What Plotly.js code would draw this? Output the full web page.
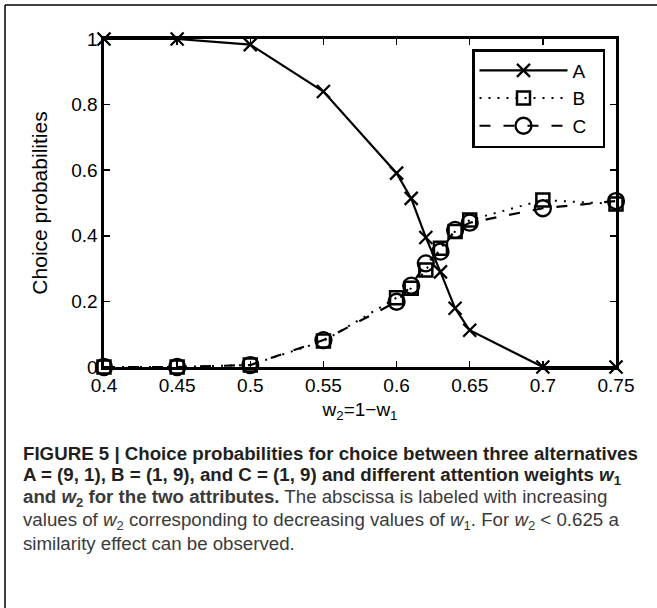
<!DOCTYPE html>
<html>
<head>
<meta charset="utf-8">
<script src="https://cdn.plot.ly/plotly-3.0.1.min.js"></script>
<style>html,body{margin:0;padding:0;background:#fff;}</style>
</head>
<body>
<div id="chart" style="width:657px;height:608px;"></div>
<script>
// ---- data ----
const w2 = [0.4, 0.45, 0.5, 0.55, 0.6, 0.61, 0.62, 0.63, 0.64, 0.65, 0.7, 0.75];
const probA = [1.0, 1.0, 0.983, 0.84, 0.591, 0.514, 0.395, 0.29, 0.179, 0.112, 0.0, 0.0];
const probB = [0.0, 0.0, 0.006, 0.079, 0.211, 0.24, 0.296, 0.362, 0.413, 0.448, 0.509, 0.497];
const probC = [0.0, 0.0, 0.006, 0.082, 0.199, 0.248, 0.316, 0.352, 0.418, 0.44, 0.484, 0.506];
const seriesNames = ['A', 'B', 'C'];
const xTicks = [0.4, 0.45, 0.5, 0.55, 0.6, 0.65, 0.7, 0.75];
const xTickLabels = ['0.4', '0.45', '0.5', '0.55', '0.6', '0.65', '0.7', '0.75'];
const yTicks = [0, 0.2, 0.4, 0.6, 0.8, 1];
const yTickLabels = ['0', '0.2', '0.4', '0.6', '0.8', '1'];
const captionLines = [
  '<b>FIGURE 5 | Choice probabilities for choice between three alternatives</b>',
  '<b>A = (9, 1), B = (1, 9), and C = (1, 9) and different attention weights <i>w</i><sub>1</sub></b>',
  '<b>and <i>w</i><sub>2</sub> for the two attributes.</b> The abscissa is labeled with increasing',
  'values of <i>w</i><sub>2</sub> corresponding to decreasing values of <i>w</i><sub>1</sub>. For <i>w</i><sub>2</sub> < 0.625 a',
  'similarity effect can be observed.'
];

// ---- layout geometry (pixels) ----
const W = 657, H = 608;
const M = {l: 104, r: 41, t: 39, b: 241};
const pw = W - M.l - M.r, ph = H - M.t - M.b;
const px = x => (x - M.l) / pw;
const py = y => (H - M.b - y) / ph;

const font = 'Liberation Sans, Arial, Helvetica, sans-serif';
const pad = '\u00a0\u00a0';

const traces = [
  {x: w2, y: probA, name: seriesNames[0] + pad, mode: 'lines+markers', cliponaxis: false,
   line: {color: '#000', width: 2.2},
   marker: {symbol: 'x-thin', size: 13, line: {color: '#000', width: 2.3}, color: '#000'}},
  {x: w2, y: probB, name: seriesNames[1] + pad, mode: 'lines+markers', cliponaxis: false,
   line: {color: '#000', width: 2, dash: '2px,7px'},
   marker: {symbol: 'square-open', size: 13, line: {color: '#000', width: 2.5}, color: '#000'}},
  {x: w2, y: probC, name: seriesNames[2] + pad, mode: 'lines+markers', cliponaxis: false,
   line: {color: '#000', width: 2.2, dash: '11px,13px'},
   marker: {symbol: 'circle-open', size: 16, line: {color: '#000', width: 2.3}, color: '#000'}}
];

const annotations = captionLines.map((t, i) => ({
  text: t, xref: 'paper', yref: 'paper',
  x: px(21), y: py(453 + i * 22.5), xanchor: 'left', yanchor: 'middle',
  showarrow: false, align: 'left',
  font: {family: font, size: 18.7, color: i < 2 ? '#231f20' : '#3a3a3a'}
}));

const layout = {
  width: W, height: H,
  margin: M,
  paper_bgcolor: '#fff', plot_bgcolor: '#fff',
  showlegend: true,
  legend: {
    x: px(472), y: py(49), xanchor: 'left', yanchor: 'top',
    bgcolor: '#fff', bordercolor: '#000', borderwidth: 2.5,
    font: {family: font, size: 19, color: '#000'},
    itemwidth: 88, tracegroupgap: 0
  },
  xaxis: {
    range: [0.4, 0.75], tickvals: xTicks, ticktext: xTickLabels,
    ticks: 'inside', ticklen: 6, tickwidth: 1.5, tickcolor: '#000',
    showline: true, linecolor: '#000', linewidth: 2.6, mirror: 'ticks',
    showgrid: false, zeroline: false,
    tickfont: {family: font, size: 19, color: '#000'},
    title: {text: 'w<sub>2</sub>=1\u2212w<sub>1</sub>', font: {family: font, size: 19, color: '#000'}, standoff: 8}
  },
  yaxis: {
    range: [0, 1], tickvals: yTicks, ticktext: yTickLabels,
    ticks: 'inside', ticklen: 6, tickwidth: 1.5, tickcolor: '#000',
    showline: true, linecolor: '#000', linewidth: 2.6, mirror: 'ticks',
    showgrid: false, zeroline: false,
    tickfont: {family: font, size: 19, color: '#000'},
    title: {text: 'Choice probabilities', font: {family: font, size: 21, color: '#000'}, standoff: 18}
  },
  annotations: annotations,
  shapes: [
    {type: 'line', xref: 'paper', yref: 'paper', x0: px(5), x1: px(657), y0: py(5), y1: py(5),
     line: {color: '#000', width: 1.5}},
    {type: 'line', xref: 'paper', yref: 'paper', x0: px(5), x1: px(5), y0: py(5), y1: py(608),
     line: {color: '#000', width: 1.5}}
  ]
};

Plotly.newPlot('chart', traces, layout, {displayModeBar: false, staticPlot: true});
</script>
</body>
</html>
